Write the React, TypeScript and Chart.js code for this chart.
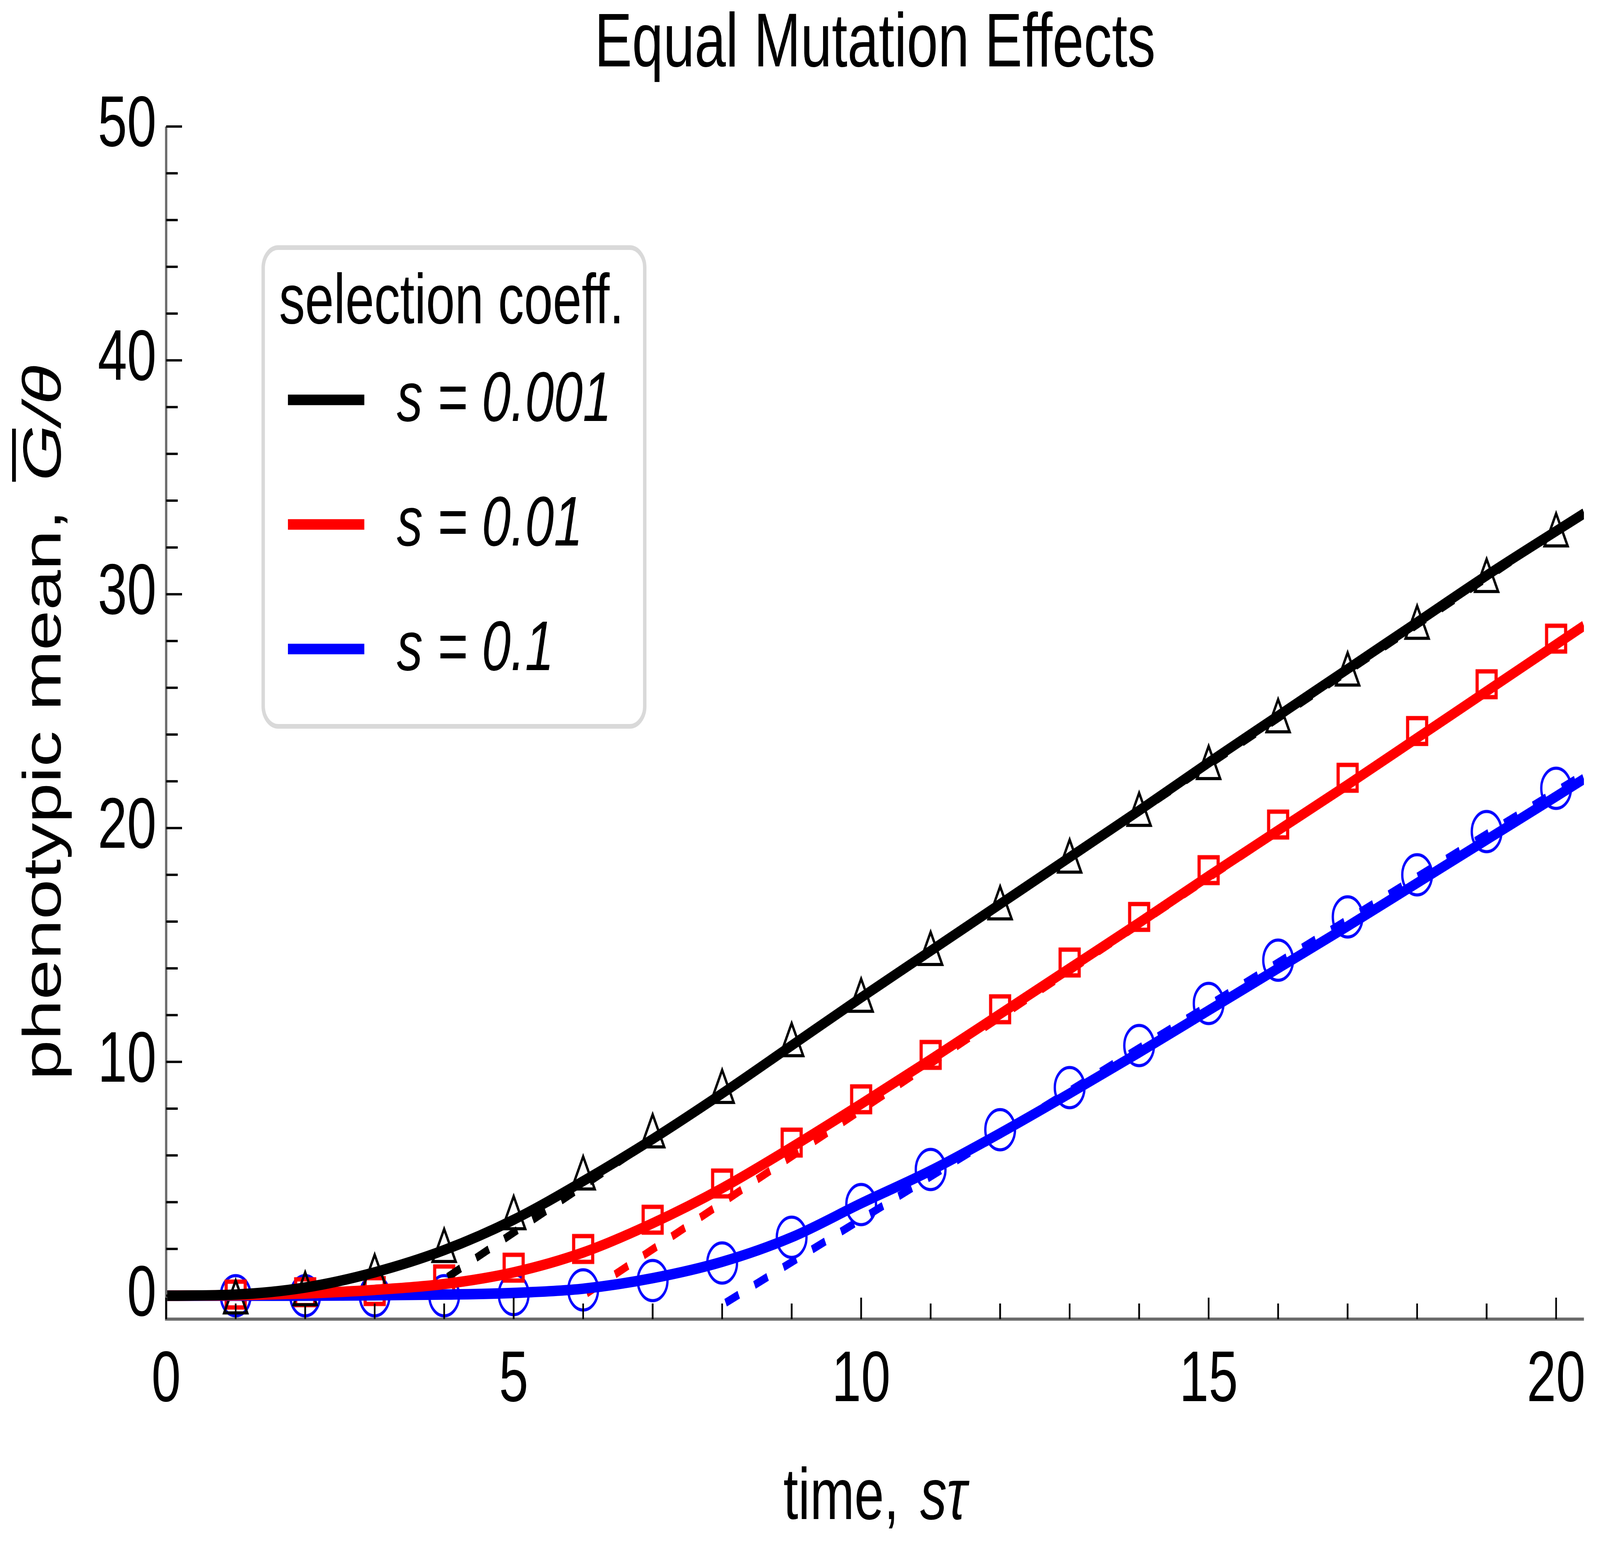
import React, { useEffect, useRef } from 'react';
import { Chart, registerables } from 'chart.js';

Chart.register(...registerables);

const W = 5556;
const H = 3959;
const FONT = '"Liberation Sans", Arial, Helvetica, sans-serif';

// ---- text ----
const TITLE = 'Equal Mutation Effects';
const LEGEND_TITLE = 'selection coeff.';
const SERIES_LABELS = ['s = 0.001', 's = 0.01', 's = 0.1'];
const SERIES_COLORS = ['#000000', '#ff0000', '#0000ff'];

// ---- ticks ----
const X_TICKS = [0, 5, 10, 15, 20];
const X_MINOR = [1, 2, 3, 4, 6, 7, 8, 9, 11, 12, 13, 14, 16, 17, 18, 19];
const Y_TICKS = [0, 10, 20, 30, 40, 50];
const Y_MINOR = [2, 4, 6, 8, 12, 14, 16, 18, 22, 24, 26, 28, 32, 34, 36, 38, 42, 44, 46, 48];

// ---- solid curves ----
const CURVE_X = [0, 1, 2, 3, 4, 5, 6, 7, 8, 9, 10, 11, 12, 13, 14, 15, 16, 17, 18, 19, 20, 20.4];
const CURVE_BLACK = [0, 0.05, 0.35, 1.0, 1.95, 3.25, 4.9, 6.7, 8.65, 10.7, 12.75, 14.75, 16.75, 18.75, 20.75, 22.8, 24.8, 26.8, 28.8, 30.8, 32.7, 33.45];
const CURVE_RED = [0, 0.02, 0.1, 0.25, 0.5, 1.0, 1.85, 3.1, 4.6, 6.35, 8.2, 10.1, 12.05, 14.0, 15.95, 17.95, 19.9, 21.85, 23.85, 25.85, 27.85, 28.65];
const CURVE_BLUE = [0, 0, 0, 0.02, 0.05, 0.12, 0.3, 0.75, 1.45, 2.5, 3.95, 5.35, 6.95, 8.65, 10.4, 12.2, 14.0, 15.8, 17.65, 19.5, 21.35, 22.1];

// ---- dashed asymptotes ----
const DASH_BLACK_X = [4.05, 20.4];
const DASH_BLACK = [0.8, 33.5];
const DASH_RED_X = [6.05, 20.4];
const DASH_RED = [0.1, 28.6];
const DASH_BLUE_X = [8.05, 20.4];
const DASH_BLUE = [-0.3, 22.3];

// ---- simulation markers ----
const MARK_X = [1, 2, 3, 4, 5, 6, 7, 8, 9, 10, 11, 12, 13, 14, 15, 16, 17, 18, 19, 20];
const MARK_BLACK = [0.0, 0.35, 1.1, 2.2, 3.6, 5.3, 7.1, 9.0, 11.0, 12.9, 14.9, 16.85, 18.85, 20.85, 22.85, 24.85, 26.85, 28.85, 30.85, 32.8];
const MARK_RED = [0.05, 0.15, 0.2, 0.7, 1.2, 2.0, 3.25, 4.8, 6.55, 8.4, 10.3, 12.25, 14.25, 16.2, 18.2, 20.15, 22.15, 24.15, 26.15, 28.1];
const MARK_BLUE = [0, 0, 0, 0, 0.05, 0.25, 0.65, 1.4, 2.5, 3.9, 5.4, 7.1, 8.9, 10.7, 12.5, 14.35, 16.2, 18.0, 19.85, 21.7];

const pts = (xs: number[], ys: number[]) => xs.map((x, i) => ({ x, y: ys[i] }));

function makeMarker(kind: 'tri' | 'sq' | 'ci', color: string): HTMLCanvasElement {
  const c = document.createElement('canvas');
  c.width = 140;
  c.height = 140;
  const g = c.getContext('2d')!;
  g.strokeStyle = color;
  g.lineJoin = 'miter';
  g.miterLimit = 10;
  g.translate(70, 70);
  if (kind === 'tri') {
    g.lineWidth = 8;
    g.beginPath();
    g.moveTo(0, -39);
    g.lineTo(40, 44);
    g.lineTo(-40, 44);
    g.closePath();
    g.stroke();
  } else if (kind === 'sq') {
    g.lineWidth = 11;
    g.strokeRect(-33, -33, 66, 66);
  } else {
    g.lineWidth = 8;
    g.beginPath();
    g.arc(0, 0, 51.5, 0, Math.PI * 2);
    g.stroke();
  }
  return c;
}

const decorPlugin = {
  id: 'decor',
  afterDraw(chart: any) {
    const { ctx, chartArea: a, scales } = chart;
    const xs = scales.x;
    const ys = scales.y;
    ctx.save();

    // axes
    ctx.strokeStyle = '#6b6b6b';
    ctx.lineWidth = 8;
    ctx.beginPath();
    ctx.moveTo(a.left, a.top);
    ctx.lineTo(a.left, a.bottom);
    ctx.lineTo(a.right, a.bottom);
    ctx.stroke();

    // inward ticks
    ctx.strokeStyle = '#000';
    ctx.lineWidth = 6;
    const tick = (x1: number, y1: number, x2: number, y2: number) => {
      ctx.beginPath();
      ctx.moveTo(x1, y1);
      ctx.lineTo(x2, y2);
      ctx.stroke();
    };
    X_TICKS.forEach((v) => { const p = xs.getPixelForValue(v); tick(p, a.bottom, p, a.bottom - 55); });
    X_MINOR.forEach((v) => { const p = xs.getPixelForValue(v); tick(p, a.bottom, p, a.bottom - 40); });
    Y_TICKS.forEach((v) => { const p = ys.getPixelForValue(v); tick(a.left, p, a.left + 55, p); });
    Y_MINOR.forEach((v) => { const p = ys.getPixelForValue(v); tick(a.left, p, a.left + 40, p); });

    const cx = (a.left + a.right) / 2;
    const cy = (a.top + a.bottom) / 2;
    ctx.fillStyle = '#000';
    ctx.textBaseline = 'alphabetic';

    // title
    ctx.font = `195px ${FONT}`;
    ctx.textAlign = 'center';
    ctx.fillText(TITLE, cx, 170);

    // x-axis label: "time, sτ"
    ctx.textAlign = 'left';
    const fs = 185;
    const normal = `${fs}px ${FONT}`;
    const italic = `italic ${fs}px ${FONT}`;
    ctx.font = normal;
    const xa = 'time,';
    const wa = ctx.measureText(xa).width;
    ctx.font = italic;
    const xb = 'sτ';
    const wb = ctx.measureText(xb).width;
    const gap = fs * 0.4;
    const sx = cx - (wa + gap + wb) / 2;
    ctx.font = normal;
    ctx.fillText(xa, sx, 3890);
    ctx.font = italic;
    ctx.fillText(xb, sx + wa + gap, 3890);

    // y-axis label: "phenotypic mean, G̅/θ"
    ctx.save();
    ctx.translate(210, cy);
    ctx.rotate(-Math.PI / 2);
    ctx.font = normal;
    const ya = 'phenotypic mean,';
    const wya = ctx.measureText(ya).width;
    ctx.font = italic;
    const wG = ctx.measureText('G').width;
    const wRest = ctx.measureText('/θ').width;
    const total = wya + gap + wG + wRest;
    let px = -total / 2;
    ctx.font = normal;
    ctx.fillText(ya, px, 0);
    px += wya + gap;
    ctx.font = italic;
    ctx.fillText('G', px, 0);
    ctx.fillRect(px - 2, -168, wG - 8, 13);
    ctx.fillText('/θ', px + wG, 0);
    ctx.restore();

    // legend box
    ctx.lineWidth = 12;
    ctx.strokeStyle = '#d9d9d9';
    ctx.fillStyle = '#ffffff';
    ctx.beginPath();
    (ctx as any).roundRect(914, 634, 1325, 1226, 52);
    ctx.fill();
    ctx.stroke();

    ctx.fillStyle = '#000';
    ctx.font = `180px ${FONT}`;
    ctx.textAlign = 'left';
    ctx.fillText(LEGEND_TITLE, 969, 828);

    const rows = [1024, 1343, 1662];
    SERIES_LABELS.forEach((lab, i) => {
      const y = rows[i];
      ctx.strokeStyle = SERIES_COLORS[i];
      ctx.lineWidth = 27;
      ctx.lineCap = 'butt';
      ctx.beginPath();
      ctx.moveTo(1000, y);
      ctx.lineTo(1265, y);
      ctx.stroke();
      ctx.fillStyle = '#000';
      ctx.font = `italic 180px ${FONT}`;
      ctx.fillText(lab, 1378, y + 54);
    });

    ctx.restore();
  },
};

export default function App() {
  const ref = useRef<HTMLCanvasElement | null>(null);
  // the browser window may be narrower than the chart; fit the drawing into it
  const cssW = typeof window !== 'undefined' ? Math.min(W, window.innerWidth || W) : W;

  useEffect(() => {
    if (!ref.current) return;
    const tri = makeMarker('tri', SERIES_COLORS[0]);
    const sq = makeMarker('sq', SERIES_COLORS[1]);
    const ci = makeMarker('ci', SERIES_COLORS[2]);

    const solid = (d: any, color: string) => ({
      data: d,
      showLine: true,
      borderColor: color,
      backgroundColor: color,
      borderWidth: 27,
      borderJoinStyle: 'round' as const,
      pointRadius: 0,
      cubicInterpolationMode: 'monotone' as const,
      order: 1,
    });
    const dashed = (d: any, color: string) => ({
      data: d,
      showLine: true,
      borderColor: color,
      backgroundColor: color,
      borderWidth: 21,
      borderDash: [50, 60],
      pointRadius: 0,
      order: 2,
    });
    const marks = (d: any, img: HTMLCanvasElement) => ({
      data: d,
      showLine: false,
      pointStyle: img,
      pointRadius: 10,
      order: 3,
    });

    const tickFont = { family: FONT, size: 183 };

    const chart = new Chart(ref.current, {
      type: 'scatter',
      data: {
        datasets: [
          solid(pts(CURVE_X, CURVE_BLACK), SERIES_COLORS[0]),
          solid(pts(CURVE_X, CURVE_RED), SERIES_COLORS[1]),
          solid(pts(CURVE_X, CURVE_BLUE), SERIES_COLORS[2]),
          dashed(pts(DASH_BLACK_X, DASH_BLACK), SERIES_COLORS[0]),
          dashed(pts(DASH_RED_X, DASH_RED), SERIES_COLORS[1]),
          dashed(pts(DASH_BLUE_X, DASH_BLUE), SERIES_COLORS[2]),
          marks(pts(MARK_X, MARK_BLACK), tri),
          marks(pts(MARK_X, MARK_RED), sq),
          marks(pts(MARK_X, MARK_BLUE), ci),
        ] as any,
      },
      options: {
        responsive: false,
        animation: false,
        devicePixelRatio: 1,
        events: [],
        layout: { padding: { top: 324, right: 34, left: 0, bottom: 0 } },
        plugins: {
          legend: { display: false },
          title: { display: false },
          tooltip: { enabled: false },
        },
        scales: {
          x: {
            type: 'linear',
            min: 0,
            max: 20.4,
            afterBuildTicks: (s: any) => { s.ticks = X_TICKS.map((v) => ({ value: v })); },
            afterFit: (s: any) => { s.height = H - 3378; },
            grid: { display: false, drawTicks: false },
            border: { display: false },
            ticks: { font: tickFont, color: '#000', padding: 50, maxRotation: 0, autoSkip: false },
          },
          y: {
            type: 'linear',
            min: -1,
            max: 50,
            afterBuildTicks: (s: any) => { s.ticks = Y_TICKS.map((v) => ({ value: v })); },
            afterFit: (s: any) => { s.width = 577; },
            grid: { display: false, drawTicks: false },
            border: { display: false },
            ticks: { font: tickFont, color: '#000', padding: 34, autoSkip: false },
          },
        },
      } as any,
      plugins: [decorPlugin],
    });
    return () => chart.destroy();
  }, []);

  return (
    <div style={{ position: 'absolute', left: 0, top: 0, width: cssW, height: H, background: '#fff', overflow: 'hidden' }}>
      <canvas ref={ref} width={W} height={H} style={{ display: 'block', width: cssW, height: H }} />
    </div>
  );
}
